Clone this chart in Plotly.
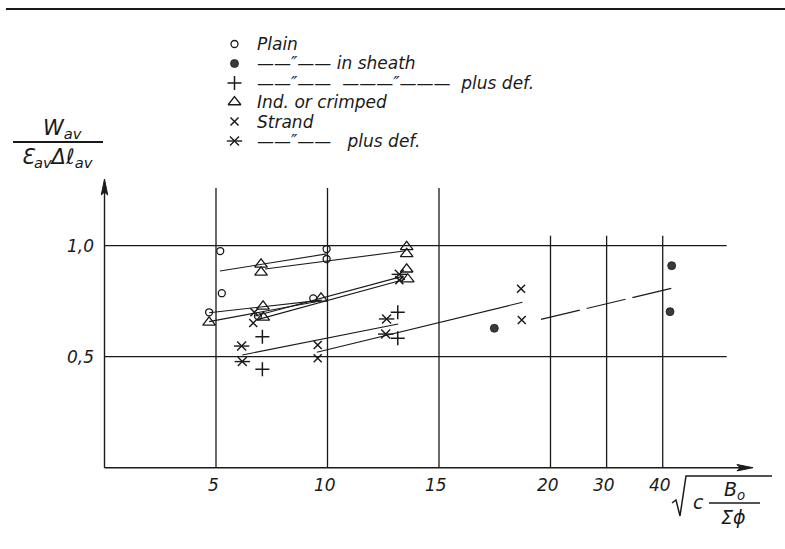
import plotly.graph_objects as go

# ---------------- data ----------------
plain_x = [5.19, 5.26, 4.69, 9.96, 9.96, 9.36, 6.88]
plain_y = [0.976, 0.786, 0.700, 0.985, 0.940, 0.763, 0.683]

sheath_x = [17.48, 41.6, 41.3]
sheath_y = [0.628, 0.910, 0.703]

sheath_plusdef_x = [7.08, 7.08, 13.15, 13.15]
sheath_plusdef_y = [0.590, 0.443, 0.700, 0.583]

crimped_x = [4.69, 7.02, 7.02, 13.55, 13.55, 7.11, 7.12, 9.71, 13.55, 13.60]
crimped_y = [0.655, 0.916, 0.880, 0.995, 0.963, 0.727, 0.677, 0.763, 0.894, 0.849]

strand_x = [6.72, 6.67, 9.56, 9.56, 18.68, 18.71, 13.22]
strand_y = [0.700, 0.652, 0.553, 0.493, 0.806, 0.665, 0.845]

strand_plusdef_x = [6.15, 6.18, 12.65, 12.61, 13.22]
strand_plusdef_y = [0.548, 0.478, 0.670, 0.602, 0.871]

# hand-drawn trend lines (end points)
trend_x = [[5.18, 9.96], [7.20, 13.52], [4.69, 9.74], [4.69, 9.66],
           [6.75, 13.40], [6.90, 13.48], [6.18, 13.17], [9.52, 18.74]]
trend_y = [[0.886, 0.963], [0.895, 0.977], [0.698, 0.755], [0.658, 0.751],
           [0.683, 0.863], [0.668, 0.849], [0.508, 0.647], [0.520, 0.745]]
dashed_x = [19.57, 42.06]
dashed_y = [0.668, 0.811]

xtick_vals = [5, 10, 15, 20, 30, 40]
xtick_text = ["5", "10", "15", "20", "30", "40"]
ytick_vals = [0.5, 1.0]
ytick_text = ["0,5", "1,0"]

NB = "\u00a0"
legend_names = ["Plain",
                "——″—— in sheath",
                "——″——" + NB * 2 + "———″———" + NB * 2 + "plus def.",
                "Ind. or crimped",
                "Strand",
                "——″——" + NB * 3 + "plus def."]

# ---------------- scale: linear to 20, compressed above 20 ----------------
def xs(v):
    return v if v <= 20 else 20 + (v - 20) * 0.2516

def xl(vals):
    return [xs(v) for v in vals]

W, H = 785, 549
X0PX, XSC = 104.5, 22.3      # pixel of x=0, px per unit
Y0PX, YSC = 467.7, 222.0     # pixel of y=0, px per unit

def P(px, py):
    return px / W, 1 - py / H

INK = "#1a1a1a"
FONT = "DejaVu Sans"

fig = go.Figure()

# axes lines
X_END, Y_END = (753 - X0PX) / XSC, (Y0PX - 179) / YSC
fig.add_trace(go.Scatter(x=[0, X_END - 0.3], y=[0, 0], mode="lines",
                         line=dict(color=INK, width=1.4), hoverinfo="skip", showlegend=False))
fig.add_trace(go.Scatter(x=[0, 0], y=[0, Y_END - 0.03], mode="lines",
                         line=dict(color=INK, width=1.4), hoverinfo="skip", showlegend=False))

def tri(pts):
    return "M " + " L ".join(f"{P(px, py)[0]:.5f} {P(px, py)[1]:.5f}" for px, py in pts) + " Z"

fig.add_shape(type="path", xref="paper", yref="paper",
              path=tri([(753, Y0PX), (737, Y0PX - 3.2), (740, Y0PX), (737, Y0PX + 3.2)]),
              fillcolor=INK, line=dict(color=INK, width=1))
fig.add_shape(type="path", xref="paper", yref="paper",
              path=tri([(X0PX, 179), (X0PX - 3.2, 195), (X0PX, 192), (X0PX + 3.2, 195)]),
              fillcolor=INK, line=dict(color=INK, width=1))

# grid lines
grid_top = [1.26, 1.26, 1.26, 1.045, 1.045, 1.045]
for v, top in zip(xtick_vals, grid_top):
    fig.add_trace(go.Scatter(x=[xs(v), xs(v)], y=[0, top], mode="lines",
                             line=dict(color=INK, width=1.3), hoverinfo="skip",
                             showlegend=False))
for v in ytick_vals:
    fig.add_trace(go.Scatter(x=[0, 27.9], y=[v, v], mode="lines",
                             line=dict(color=INK, width=1.3), hoverinfo="skip",
                             showlegend=False))

# trend lines
for tx, ty in zip(trend_x, trend_y):
    fig.add_trace(go.Scatter(x=xl(tx), y=ty, mode="lines",
                             line=dict(color=INK, width=1.1), hoverinfo="skip",
                             showlegend=False))
fig.add_trace(go.Scatter(x=xl(dashed_x), y=dashed_y, mode="lines",
                         line=dict(color=INK, width=1.2, dash="40px,7px"),
                         hoverinfo="skip", showlegend=False))

# marker styles
styles = [
    dict(symbol="circle-open", size=7, line=dict(width=1.3, color=INK), color=INK),
    dict(symbol="circle", size=8, color="#3a3a3a", line=dict(width=0.8, color=INK)),
    dict(symbol="cross-thin-open", size=10, line=dict(width=1.5, color=INK), color=INK),
    dict(symbol="triangle-up-open", size=11, line=dict(width=1.3, color=INK), color=INK),
    dict(symbol="x-thin-open", size=8, line=dict(width=1.5, color=INK), color=INK),
    dict(symbol="x-thin-open", size=9, line=dict(width=1.4, color=INK), color=INK),
]
bar_style = dict(symbol="line-ew-open", size=11, color=INK, line=dict(width=1.4, color=INK))

series = [(plain_x, plain_y), (sheath_x, sheath_y),
          (sheath_plusdef_x, sheath_plusdef_y), (crimped_x, crimped_y),
          (strand_x, strand_y), (strand_plusdef_x, strand_plusdef_y)]

for (sx, sy), st, name in zip(series, styles, legend_names):
    fig.add_trace(go.Scatter(x=xl(sx), y=sy, mode="markers", marker=st,
                             name=name, showlegend=False))
# horizontal bar of the asterisk symbol
fig.add_trace(go.Scatter(x=xl(strand_plusdef_x), y=strand_plusdef_y, mode="markers",
                         marker=bar_style, hoverinfo="skip", showlegend=False))

# manual legend (keys + texts)
leg_px, leg_text_px = 234.5, 255
leg_rows = [44, 63.5, 83, 102, 121.5, 141]
for i, (st, name, py) in enumerate(zip(styles, legend_names, leg_rows)):
    kx = (leg_px - X0PX) / XSC
    ky = (Y0PX - py) / YSC
    fig.add_trace(go.Scatter(x=[kx], y=[ky], mode="markers", marker=st,
                             hoverinfo="skip", showlegend=False))
    if i == 5:
        fig.add_trace(go.Scatter(x=[kx], y=[ky], mode="markers", marker=bar_style,
                                 hoverinfo="skip", showlegend=False))
    tx, ty = P(leg_text_px, py)
    fig.add_annotation(x=tx, y=ty, xref="paper", yref="paper", text=name,
                       showarrow=False, xanchor="left", yanchor="middle",
                       font=dict(family=FONT, size=17, color=INK, style="italic"))

# tick labels
for v, t in zip(xtick_vals, xtick_text):
    fig.add_annotation(x=xs(v) - 0.13, y=-0.08, xref="x", yref="y", text=t,
                       showarrow=False, xanchor="center", yanchor="middle",
                       font=dict(family=FONT, size=17, color=INK, style="italic"))
for v, t in zip(ytick_vals, ytick_text):
    tx, ty = P(80, Y0PX - v * YSC)
    fig.add_annotation(x=tx, y=ty, xref="paper", yref="paper", text=t,
                       showarrow=False, xanchor="center", yanchor="middle",
                       font=dict(family=FONT, size=17, color=INK, style="italic"))

# y-axis title (fraction)
tx, ty = P(62, 129)
fig.add_annotation(x=tx, y=ty, xref="paper", yref="paper", text="W<sub>av</sub>",
                   showarrow=False, xanchor="center", yanchor="middle",
                   font=dict(family=FONT, size=21, color=INK, style="italic"))
tx, ty = P(57, 158)
fig.add_annotation(x=tx, y=ty, xref="paper", yref="paper",
                   text="Ɛ<sub>av</sub>Δℓ<sub>av</sub>",
                   showarrow=False, xanchor="center", yanchor="middle",
                   font=dict(family=FONT, size=21, color=INK, style="italic"))
a, b = P(13, 142), P(103, 142)
fig.add_shape(type="line", xref="paper", yref="paper", x0=a[0], y0=a[1], x1=b[0], y1=b[1],
              line=dict(color=INK, width=1.8))

# x-axis title: sqrt(c * B_o / Sum phi)
pts = [(672, 503), (676, 500), (680, 516), (686, 476), (772, 476)]
path = "M " + " L ".join(f"{P(px, py)[0]:.5f} {P(px, py)[1]:.5f}" for px, py in pts)
fig.add_shape(type="path", xref="paper", yref="paper", path=path,
              line=dict(color=INK, width=1.5))
a, b = P(709, 503), P(760, 503)
fig.add_shape(type="line", xref="paper", yref="paper", x0=a[0], y0=a[1], x1=b[0], y1=b[1],
              line=dict(color=INK, width=1.5))
tx, ty = P(698, 502)
fig.add_annotation(x=tx, y=ty, xref="paper", yref="paper", text="c",
                   showarrow=False, xanchor="center", yanchor="middle",
                   font=dict(family=FONT, size=19, color=INK, style="italic"))
tx, ty = P(734, 490)
fig.add_annotation(x=tx, y=ty, xref="paper", yref="paper", text="B<sub>o</sub>",
                   showarrow=False, xanchor="center", yanchor="middle",
                   font=dict(family=FONT, size=19, color=INK, style="italic"))
tx, ty = P(733, 517)
fig.add_annotation(x=tx, y=ty, xref="paper", yref="paper", text="Σϕ",
                   showarrow=False, xanchor="center", yanchor="middle",
                   font=dict(family=FONT, size=19, color=INK, style="italic"))

# top page rule
a, b = P(6, 9), P(785, 9)
fig.add_shape(type="line", xref="paper", yref="paper", x0=a[0], y0=a[1], x1=b[0], y1=b[1],
              line=dict(color=INK, width=2))

fig.update_layout(
    width=W, height=H, margin=dict(l=0, r=0, t=0, b=0),
    paper_bgcolor="white", plot_bgcolor="white", showlegend=False,
    xaxis=dict(range=[-X0PX / XSC, (W - X0PX) / XSC], visible=False, fixedrange=True),
    yaxis=dict(range=[(Y0PX - H) / YSC, Y0PX / YSC], visible=False, fixedrange=True),
)

fig.write_html("out.html", config={"displayModeBar": False},
               post_script="document.body.style.margin='0';")
